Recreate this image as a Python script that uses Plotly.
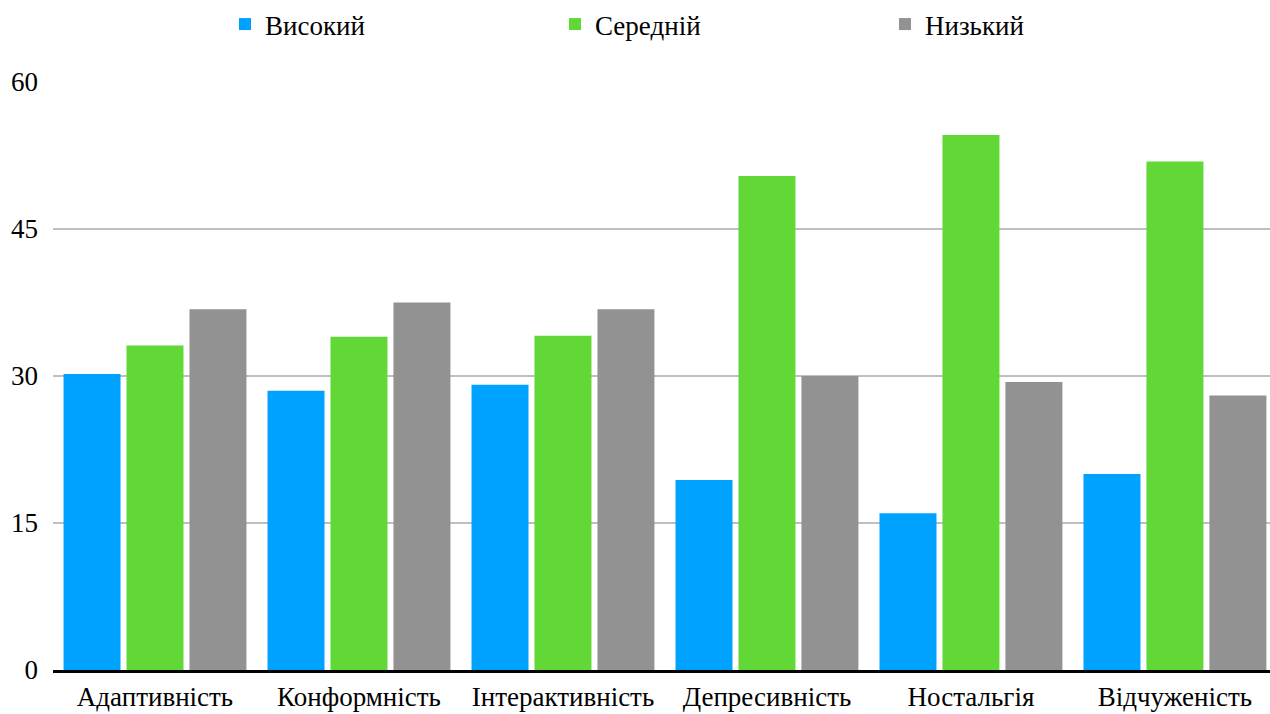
import plotly.graph_objects as go

categories = ["Адаптивність", "Конформність", "Інтерактивність",
              "Депресивність", "Ностальгія", "Відчуженість"]
high = [30.2, 28.5, 29.1, 19.4, 16.0, 20.0]
medium = [33.1, 34.0, 34.1, 50.4, 54.6, 51.9]
low = [36.8, 37.5, 36.8, 30.0, 29.4, 28.0]
y_ticks = [0, 15, 30, 45, 60]

series = [
    ("Високий", high, "#00A2FF"),
    ("Середній", medium, "#61D836"),
    ("Низький", low, "#929292"),
]

FONT = "'Liberation Serif', 'Times New Roman', serif"
SIZE = 27

fig = go.Figure()
for name, vals, color in series:
    fig.add_trace(go.Bar(x=categories, y=vals, name=name,
                         marker=dict(color=color, line=dict(width=0))))

fig.update_layout(
    width=1270, height=714,
    margin=dict(l=53, r=0, t=82, b=44),
    paper_bgcolor="white", plot_bgcolor="white",
    font=dict(family=FONT, size=SIZE, color="black"),
    barmode="group", bargap=0.074, bargroupgap=0.095,
    showlegend=True,
    legend=dict(orientation="h", xref="container", x=225 / 1270,
                xanchor="left",
                yref="container", y=1.0, yanchor="top",
                entrywidth=285, entrywidthmode="pixels",
                font=dict(family=FONT, size=SIZE, color="black")),
    xaxis=dict(range=[-0.5, 5.466], showline=True, linecolor="black",
               linewidth=3, showgrid=False, ticks="",
               ticklabelstandoff=1, automargin=False,
               tickfont=dict(family=FONT, size=SIZE)),
    yaxis=dict(range=[0, 60], tickvals=y_ticks, showgrid=True,
               gridcolor="#BFBFBF", gridwidth=1.5, zeroline=False,
               ticks="", ticklabelstandoff=14, automargin=False,
               tickfont=dict(family=FONT, size=SIZE)),
)

fig.write_html("out.html")
